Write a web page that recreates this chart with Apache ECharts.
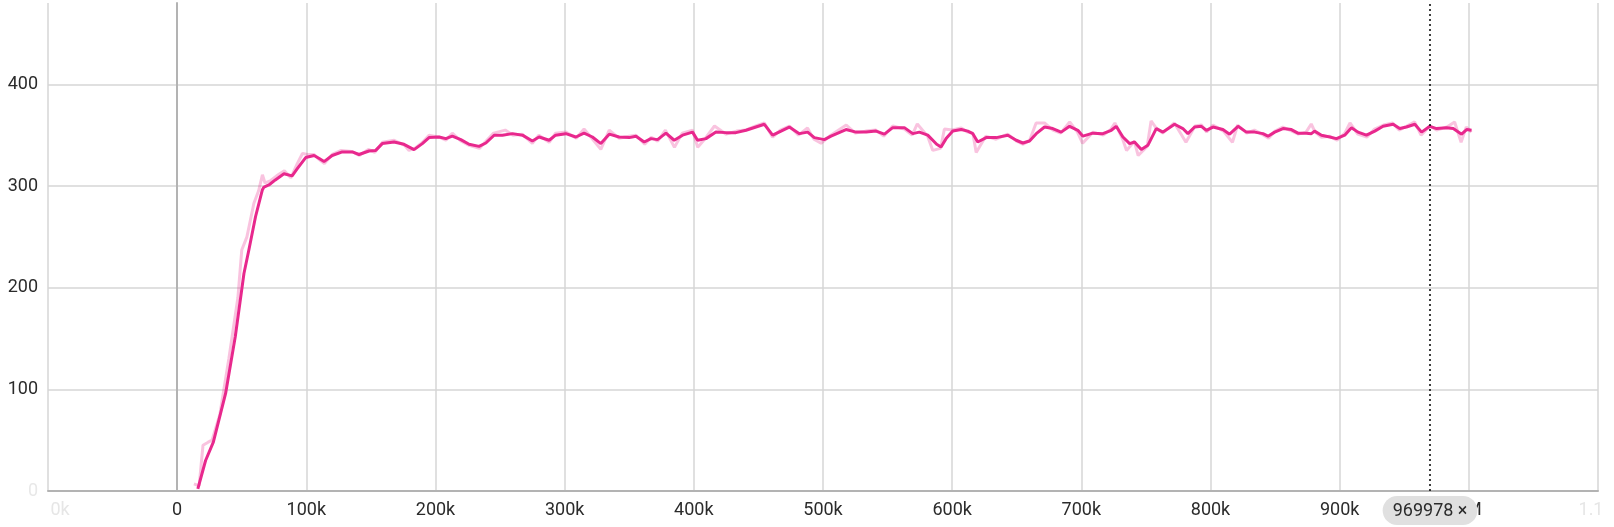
<!DOCTYPE html>
<html>
<head>
<meta charset="utf-8">
<title>scalar</title>
<script src="https://cdn.jsdelivr.net/npm/echarts@6/dist/echarts.min.js"></script>
<style>
    html, body { margin: 0; padding: 0; background: #fff; }
    #chart { width: 1614px; height: 527px; }
</style>
</head>
<body>
<div id="chart"></div>
<script>
// steps in thousands
var smoothSteps = [16, 22, 28, 37.5, 45, 51.7, 55.5, 60.7, 65.9, 67.2, 71, 76, 82.7, 89, 93, 99.5, 106, 110, 113.7, 120,
    127.8, 135.6, 140.8, 148.5, 153.7, 158.8, 167.9, 175.6, 183.4, 189.8, 195, 202.8, 208, 213, 219.6, 226, 233.7, 239, 245.4, 251.8,
    259.6, 267.3, 275, 280.2, 288, 293, 300.9, 308.7, 315, 321.5, 328, 334.5, 342.2, 350, 355.2, 361.6, 366.8, 371.9, 378.4, 384.8,
    391.3, 399, 402.9, 409.4, 417.1, 424.9, 432.6, 440.4, 448.1, 454.6, 461, 467.5, 473.9, 481.7, 488.1, 493.3, 501, 506.2, 517.8, 525.6,
    533.4, 541.1, 547.5, 554, 563, 569.5, 574.6, 581.1, 588, 591.4, 595.3, 600.5, 607, 612.1, 616, 619.8, 626.3, 634.1, 643.1, 649.6,
    654.7, 659.9, 665.1, 671.5, 677.9, 684.4, 690.9, 697.3, 701.2, 708.9, 716.7, 723.2, 727, 732.2, 737.4, 741.2, 746.4, 751.5, 758, 763.2,
    772.2, 778.6, 782.5, 787.7, 792.9, 796.8, 801.9, 809.6, 814.8, 821.3, 827.8, 834.2, 840.6, 844.5, 849.7, 856.1, 862.6, 867.7, 874.2, 878.1,
    880.6, 885.9, 892.3, 897.5, 903.9, 909.1, 914.2, 920.7, 927.2, 933.6, 941.4, 946.5, 951.7, 958.2, 963.4, 969.8, 975, 982.7, 987.9, 994.4,
    998.3, 1002.1];
var smoothValues = [2, 30, 48, 96, 152, 214, 237, 270, 296, 299, 301, 306, 312, 310, 317, 328, 330, 327, 324, 330,
    333.5, 333.5, 331, 334.4, 335, 341.7, 343.3, 341, 335.8, 341.7, 347.6, 348.2, 346.6, 349, 345.6, 341, 339, 342.3, 349.9, 350,
    351.5, 350, 344.3, 348.2, 345, 350, 351.5, 348.2, 352, 348.2, 341.7, 351, 348.2, 347.6, 349, 343.3, 346.6, 345.6, 352, 345,
    350, 353, 345, 346.6, 353, 352.5, 352.5, 354.8, 358, 360.7, 350, 354, 358, 351.5, 353, 347.6, 345.6, 349, 355.5, 353,
    353, 354, 351, 357.4, 357.4, 351.5, 353, 350, 341, 338.4, 346.6, 354, 355.5, 354, 351.5, 343.3, 347.6, 347.6, 350, 345,
    342.3, 344.3, 351.5, 358, 356.5, 353, 358.7, 354.8, 349, 352, 351.5, 354.8, 358.7, 348.2, 341.7, 343.3, 335.8, 340, 356.5, 353,
    360.7, 356.5, 351.5, 358, 358.7, 354.8, 358, 355.5, 351, 358.7, 353, 353, 351.5, 349, 353, 356.5, 355.5, 352, 352, 351.5,
    354, 350, 348.2, 346.6, 350, 357.4, 353, 350, 354, 358.7, 360.7, 356.5, 358, 360.7, 353, 358.7, 356.5, 357.4, 356.5, 351,
    355.5, 354.8];

var rawSteps = [13, 17, 20, 24, 27, 33, 40, 47, 50, 54, 59.4, 63, 66, 68, 72, 77, 83, 88, 93, 97,
    101, 106, 110, 114, 120, 127, 135, 141, 148, 153, 159, 168, 176, 179.5, 184, 190, 195, 203, 208, 213,
    220, 226, 234, 239, 245, 254, 260, 267, 275, 280, 288, 293, 301, 309, 315, 321, 328, 334.5, 342, 350,
    355, 362, 367, 372, 378, 385, 391, 399, 403, 409, 416, 425, 433, 440, 448, 454.6, 461, 467, 474, 481,
    488, 493, 498.5, 506, 518, 525, 533, 541, 547, 554, 563, 569, 573, 581, 585, 588, 591, 594, 600, 607,
    612, 616, 618.6, 626, 634, 643, 650, 655, 660, 665, 671.5, 678, 684, 691, 697, 701, 709, 717, 723, 726,
    732, 735, 741, 744, 751, 754, 758, 763, 772, 781, 788, 793, 797, 802, 810, 817, 821, 828, 834, 841,
    845, 850, 856, 863, 868, 874, 878, 881, 886, 892, 898, 904, 908, 914, 921, 927, 934, 941, 946, 952,
    958, 963, 970, 975, 983, 989, 994, 998, 1002];
var rawValues = [7, 5, 45, 48, 50, 75, 130, 190, 237, 250, 283, 295, 311, 303, 305, 310, 315, 308, 322, 332,
    331, 331, 326, 322, 331, 335, 334, 330, 336, 333, 343, 345, 340, 335, 337, 343, 350, 348, 345, 352,
    344, 340, 337, 344, 352, 355, 350, 351, 342, 350, 343, 352, 353, 347, 356, 347, 336, 355, 347, 349,
    350, 341, 348, 344, 355, 338, 352, 355, 338, 347, 359, 351, 354, 355, 359, 362, 348, 355, 359, 350,
    357, 346, 342, 350, 360, 352, 354, 355, 349, 359, 356, 350, 361, 349, 335, 336, 337, 356, 355, 357,
    353, 352, 333, 349, 346, 351, 344, 341, 345, 362, 362, 355, 352, 363, 353, 342, 353, 350, 356, 362,
    346, 335, 344, 330, 339, 364, 357, 352, 362, 343, 359, 360, 353, 360, 354, 343, 360, 352, 355, 350,
    347, 354, 358, 354, 351, 353, 361, 353, 348, 349, 345, 352, 362, 351, 348, 356, 360, 362, 355, 359,
    363, 350, 359, 355, 358, 363, 343, 358, 353];

var xTicks = [-100000, 0, 100000, 200000, 300000, 400000, 500000, 600000, 700000, 800000, 900000, 1000000, 1100000];
var yTicks = [0, 100, 200, 300, 400];
var cursorStep = 969978;

function pairs(steps, values) {
    var out = [];
    for (var i = 0; i < steps.length; i++) {
        out.push([steps[i] * 1000, values[i]]);
    }
    return out;
}

var chart = echarts.init(document.getElementById('chart'));
var lineColor = '#e8288d';
var gridColor = '#d6d6d6';
var labelFont = {fontFamily: 'Roboto', fontSize: 18, color: '#2b2b2b'};

var option = {
    animation: false,
    grid: {left: 48, right: 16, top: 3, bottom: 36},
    axisPointer: {triggerOn: 'none'},
    xAxis: {
        type: 'value',
        min: xTicks[0],
        max: xTicks[xTicks.length - 1],
        interval: 100000,
        axisLine: {show: true, lineStyle: {color: '#b3b3b3', width: 2}},
        axisTick: {show: false},
        splitLine: {show: true, lineStyle: {color: gridColor, width: 1.5}},
        axisLabel: {
            margin: 10,
            fontFamily: labelFont.fontFamily,
            fontSize: labelFont.fontSize,
            color: labelFont.color,
            formatter: function (v) {
                if (v === xTicks[0]) return '{l|0k}';
                if (v === xTicks[xTicks.length - 1]) return '{r|1.1}';
                if (v === 0) return '0';
                if (v >= 1000000) return (v / 1000000) + 'M';
                return (v / 1000) + 'k';
            },
            rich: {
                l: {color: '#e6e6e6', fontFamily: 'Roboto', fontSize: 18, padding: [0, 0, 0, 24]},
                r: {color: '#e6e6e6', fontFamily: 'Roboto', fontSize: 18, padding: [0, 14, 0, 0]}
            }
        },
        axisPointer: {
            show: true,
            value: cursorStep,
            status: 'show',
            snap: false,
            triggerTooltip: false,
            lineStyle: {color: '#000', type: [2, 3], width: 1.5},
            label: {
                show: true,
                margin: 5,
                formatter: function () { return cursorStep + ' ×'; },
                backgroundColor: '#e0e0e0',
                borderRadius: 15,
                padding: [6, 10, 5, 10],
                color: '#2b2b2b',
                fontFamily: 'Roboto',
                fontSize: 18
            }
        }
    },
    yAxis: {
        type: 'value',
        min: 0,
        max: 480,
        interval: 100,
        axisLine: {show: true, lineStyle: {color: '#b3b3b3', width: 2}},
        axisTick: {show: false},
        // last entry hides the split line drawn at the 480 max
        splitLine: {show: true, lineStyle: {color: [gridColor, gridColor, gridColor, gridColor, gridColor, 'rgba(0,0,0,0)'], width: 1.5}},
        axisLabel: {
            margin: 10,
            fontFamily: labelFont.fontFamily,
            fontSize: labelFont.fontSize,
            color: labelFont.color,
            formatter: function (v) {
                if (yTicks.indexOf(v) < 0) return '';
                if (v === 0) return '{f|0}';
                return String(v);
            },
            rich: {
                f: {color: '#e8e8e8', fontFamily: 'Roboto', fontSize: 18}
            }
        }
    },
    series: [{
        name: 'raw',
        type: 'line',
        showSymbol: false,
        silent: true,
        data: pairs(rawSteps, rawValues),
        lineStyle: {color: lineColor, width: 3, opacity: 0.28},
        markLine: {
            silent: true,
            symbol: 'none',
            label: {show: false},
            lineStyle: {color: '#b3b3b3', type: 'solid', width: 2},
            data: [{xAxis: 0}]
        }
    }, {
        name: 'smoothed',
        type: 'line',
        showSymbol: false,
        silent: true,
        data: pairs(smoothSteps, smoothValues),
        lineStyle: {color: lineColor, width: 3}
    }]
};
chart.setOption(option);
</script>
</body>
</html>
